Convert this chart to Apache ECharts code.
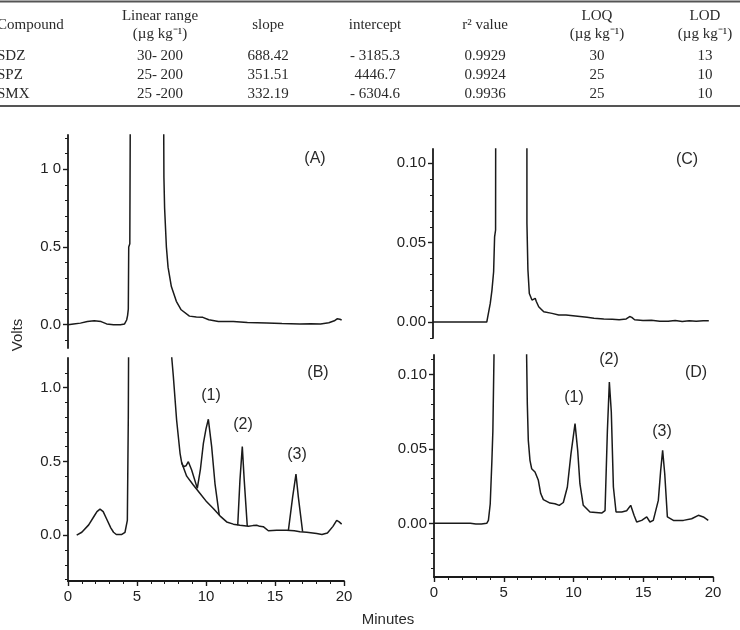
<!DOCTYPE html>
<html>
<head>
<meta charset="utf-8">
<script src="https://cdn.jsdelivr.net/npm/echarts@6.0.0/dist/echarts.min.js"></script>
<style>
    html, body { margin: 0; padding: 0; background: #fff; }
    #main { width: 740px; height: 630px; }
</style>
</head>
<body>
<div id="main"></div>
<script>
// table values
var tableHead = ['Compound', 'Linear range', 'slope', 'intercept', 'r\u00b2 value', 'LOQ', 'LOD'];
var tableUnits = ['', '(\u00b5g kg\u207b\u00b9)', '', '', '', '(\u00b5g kg\u207b\u00b9)', '(\u00b5g kg\u207b\u00b9)'];
var tableRows = [
    ['SDZ', '30- 200', '688.42', '- 3185.3', '0.9929', '30', '13'],
    ['SPZ', '25- 200', '351.51', '4446.7', '0.9924', '25', '10'],
    ['SMX', '25 -200', '332.19', '- 6304.6', '0.9936', '25', '10']
];

// (A) blank, volts vs minutes
var timeA = [0, 0.4, 0.9, 1.4, 1.9, 2.4, 2.8, 3.3, 3.8, 4.1, 4.25, 4.32, 4.37, 4.4, 4.48, 4.56, 6.88, 6.95, 7.0, 7.13,
    7.25, 7.49, 7.85, 8.2, 8.8, 9.3, 9.77, 10.2, 10.9, 11.98, 13.0, 14.4, 15.5, 16.8, 17.6, 18.3, 18.9, 19.3, 19.5, 19.7, 19.83];
var voltsA = [0, 0.005, 0.01, 0.02, 0.025, 0.02, 0.005, 0, 0, 0.005, 0.03, 0.06, 0.1, 0.5, 0.52, 2.5, 2.5, 0.95, 0.75, 0.5,
    0.37, 0.245, 0.15, 0.096, 0.055, 0.05, 0.047, 0.032, 0.021, 0.021, 0.014, 0.011, 0.008, 0.005, 0.006, 0.005, 0.012, 0.025, 0.038, 0.035, 0.03];

// (B) matrix baseline
var timeB = [0.63, 1.0, 1.5, 1.9, 2.1, 2.32, 2.55, 2.8, 3.1, 3.3, 3.5, 3.9, 4.13, 4.3, 4.37, 4.45, 7.35, 7.52, 7.63, 7.87, 8.12,
    8.24, 8.6, 9.08, 9.57, 10.05, 10.53, 11.01, 11.5, 11.98, 12.46, 13.07, 13.4, 13.67, 13.9, 14.15, 14.52, 15.12, 15.85, 16.4, 16.81,
    17.3, 18.02, 18.4, 18.8, 19.2, 19.47, 19.65, 19.83];
var voltsB = [0, 0.02, 0.07, 0.13, 0.16, 0.177, 0.16, 0.11, 0.05, 0.02, 0.005, 0.005, 0.02, 0.1, 0.8, 2.5, 2.5, 1.2, 1.08, 0.78, 0.555,
    0.49, 0.40, 0.34, 0.283, 0.226, 0.181, 0.131, 0.09, 0.075, 0.068, 0.061, 0.065, 0.068, 0.06, 0.058, 0.03, 0.033, 0.033, 0.03, 0.023,
    0.02, 0.011, 0.005, 0.015, 0.06, 0.10, 0.09, 0.075];
// (B) spiked peaks, null = gap
var timeBPeaks = [8.24, 8.36, 8.55, 8.72, 8.96, 9.37, 9.6, 9.81, 10.0, 10.17, 10.41, 10.65, 10.96, null,
    12.3, 12.46, 12.63, 12.77, 12.99, null, 15.97, 16.28, 16.52, 16.69, 17.0];
var voltsBPeaks = [0.49, 0.464, 0.47, 0.498, 0.441, 0.317, 0.45, 0.622, 0.72, 0.785, 0.60, 0.35, 0.136, null,
    0.068, 0.373, 0.60, 0.373, 0.062, null, 0.033, 0.26, 0.414, 0.26, 0.024];

// (C) blank, expanded scale
var timeC = [0, 1, 2, 3, 3.84, 3.97, 4.09, 4.21, 4.33, 4.4, 4.47, 4.5, 6.7, 6.71, 6.78, 6.88, 7.07, 7.2, 7.3, 7.38, 7.55, 7.91,
    8.5, 8.98, 9.5, 10.0, 10.5, 11.0, 11.5, 12.2, 12.8, 13.3, 13.8, 14.05, 14.2, 14.4, 15.0, 15.6, 16.2, 16.8, 17.3, 17.8, 18.3,
    18.8, 19.3, 19.7];
var voltsC = [0, 0, 0, 0, 0, 0.001, 0.0118, 0.020, 0.0317, 0.0537, 0.058, 0.3, 0.3, 0.062, 0.033, 0.018, 0.0139, 0.0145, 0.015,
    0.013, 0.0097, 0.0065, 0.0055, 0.0045, 0.0045, 0.004, 0.0035, 0.003, 0.0025, 0.002, 0.0018, 0.0015, 0.002, 0.0035, 0.003,
    0.0015, 0.001, 0.0012, 0.0006, 0.0005, 0.001, 0.0004, 0.0008, 0.0006, 0.0008, 0.0008];

// (D) spiked, expanded scale
var timeD = [0, 1, 2, 2.6, 3.0, 3.4, 3.78, 3.9, 4.03, 4.15, 4.22, 4.3, 4.36, 6.62, 6.64, 6.69, 6.76, 6.88, 7.0, 7.24,
    7.48, 7.65, 7.84, 8.32, 8.67, 8.98, 9.27, 9.56, 9.82, 10.11, 10.3, 10.46, 10.7, 11.18, 12.02, 12.26, 12.43, 12.57, 12.71, 12.86,
    13.05, 13.46, 13.81, 14.1, 14.34, 14.53, 14.89, 15.25, 15.48, 15.72, 16.08, 16.25, 16.39, 16.54, 16.73, 17.16, 17.88, 18.47,
    18.95, 19.31, 19.66];
var voltsD = [0, 0, 0, 0, -0.0005, -0.0005, 0, 0.002, 0.013, 0.042, 0.062, 0.112, 0.3, 0.3, 0.112, 0.080, 0.0557, 0.0423, 0.0367, 0.0345,
    0.0289, 0.020, 0.0159, 0.0136, 0.0132, 0.0121, 0.014, 0.0244, 0.0468, 0.0669, 0.049, 0.0266, 0.0121, 0.0076, 0.0069, 0.0085,
    0.0624, 0.0948, 0.0747, 0.0244, 0.0076, 0.0076, 0.0085, 0.0121, 0.0054, 0.0009, 0.002, 0.0043, 0.0009, 0.002, 0.0154, 0.0356,
    0.049, 0.0333, 0.0043, 0.002, 0.002, 0.0031, 0.0054, 0.0043, 0.002];

// axis ticks
var majorsAB = [0, 0.5, 1.0];
var minorsA = [-0.1, 0.1, 0.2, 0.3, 0.4, 0.6, 0.7, 0.8, 0.9, 1.1, 1.2];
var minorsB = [-0.3, -0.2, -0.1, 0.1, 0.2, 0.3, 0.4, 0.6, 0.7, 0.8, 0.9, 1.1];
var majorsCD = [0, 0.05, 0.10];
var minorsC = [-0.01, 0.01, 0.02, 0.03, 0.04, 0.06, 0.07, 0.08, 0.09];
var minorsD = [-0.03, -0.02, -0.01, 0.01, 0.02, 0.03, 0.04, 0.06, 0.07, 0.08, 0.09, 0.11];

var INK = '#1a1a1a';
var LABEL_FONT = 'Liberation Sans';

function pairs(xs, ys) {
    return xs.map(function (x, i) {
        return x === null ? ['-', '-'] : [x, ys[i]];
    });
}

function yMain(grid, min, max, majors, fmt) {
    return {
        type: 'value', gridIndex: grid, min: min, max: max, position: 'left',
        axisLine: { show: true, onZero: false, lineStyle: { color: INK, width: 1.8 } },
        axisTick: { show: true, customValues: majors, length: 5, lineStyle: { color: INK, width: 1.4 } },
        axisLabel: { show: true, customValues: majors, formatter: fmt, fontFamily: LABEL_FONT, fontSize: 15, color: '#222', margin: 7 },
        splitLine: { show: false }
    };
}

function yMinor(grid, min, max, minors) {
    return {
        type: 'value', gridIndex: grid, min: min, max: max, position: 'left',
        axisLine: { show: false },
        axisTick: { show: true, customValues: minors, length: 3, lineStyle: { color: INK, width: 1 } },
        axisLabel: { show: false },
        splitLine: { show: false }
    };
}

function xAxisFor(grid, visible) {
    return {
        type: 'value', gridIndex: grid, min: 0, max: 20, interval: 5, show: visible,
        axisLine: { onZero: false, lineStyle: { color: INK, width: 1.8 } },
        axisTick: { length: 5, lineStyle: { color: INK, width: 1.4 } },
        minorTick: { show: true, splitNumber: 5, length: 3, lineStyle: { color: INK, width: 1 } },
        axisLabel: { fontFamily: LABEL_FONT, fontSize: 15, color: '#222', margin: 8 },
        splitLine: { show: false }
    };
}

function trace(xi, yi, data) {
    return {
        type: 'line', xAxisIndex: xi, yAxisIndex: yi, data: data,
        symbol: 'none', clip: true, silent: true, connectNulls: false,
        lineStyle: { color: INK, width: 1.5 }
    };
}

function txt(text, x, y, font, extra) {
    var s = { text: text, x: x, y: y, fill: '#2a2a2a', font: font, textAlign: 'center', textVerticalAlign: 'middle' };
    if (extra) { Object.assign(s, extra); }
    return { type: 'text', style: s, silent: true };
}

// table drawn as graphic text
var tableGraphic = [];
var colX = [-3, 160, 268, 375, 485, 597, 705];
var SERIF = '15px "Liberation Serif"';
tableGraphic.push({ type: 'line', shape: { x1: 0, y1: 1.5, x2: 740, y2: 1.5 }, style: { stroke: '#555', lineWidth: 2 } });
tableGraphic.push({ type: 'line', shape: { x1: 0, y1: 106, x2: 740, y2: 106 }, style: { stroke: '#555', lineWidth: 2 } });
tableHead.forEach(function (h, i) {
    var align = i === 0 ? { textAlign: 'left' } : null;
    if (tableUnits[i]) {
        tableGraphic.push(txt(h, colX[i], 16, SERIF, align));
        tableGraphic.push(txt(tableUnits[i], colX[i], 34, SERIF, align));
    } else {
        tableGraphic.push(txt(h, colX[i], 25, SERIF, align));
    }
});
tableRows.forEach(function (row, r) {
    row.forEach(function (cell, i) {
        var align = i === 0 ? { textAlign: 'left' } : null;
        tableGraphic.push(txt(cell, colX[i], 56 + r * 19, SERIF, align));
    });
});

var SANS = '16px "Liberation Sans"';
var chartGraphic = [
    txt('(A)', 315, 159, SANS),
    txt('(B)', 318, 373, SANS),
    txt('(C)', 687, 160, SANS),
    txt('(D)', 696, 373, SANS),
    txt('(1)', 211, 396, SANS),
    txt('(2)', 243, 425, SANS),
    txt('(3)', 297, 455, SANS),
    txt('(1)', 574, 398, SANS),
    txt('(2)', 609, 360, SANS),
    txt('(3)', 662, 432, SANS),
    txt('Minutes', 388, 620, '15px "Liberation Sans"'),
    { type: 'text', x: 18, y: 335, rotation: Math.PI / 2, silent: true,
      style: { text: 'Volts', fill: '#2a2a2a', font: '15px "Liberation Sans"', textAlign: 'center', textVerticalAlign: 'middle' } }
];

var myChart = echarts.init(document.getElementById('main'), null, { renderer: 'canvas' });
var option = {
    animation: false,
    backgroundColor: '#fff',
    grid: [
        { left: 68, top: 135, width: 276, height: 213 },
        { left: 68, top: 358, width: 276, height: 223 },
        { left: 433, top: 149, width: 280, height: 189 },
        { left: 434, top: 355, width: 279, height: 222 }
    ],
    xAxis: [xAxisFor(0, false), xAxisFor(1, true), xAxisFor(2, false), xAxisFor(3, true)],
    yAxis: [
        yMain(0, -0.15, 1.22, majorsAB, function (v) { return v === 1 ? '1 0' : v.toFixed(1); }),
        yMinor(0, -0.15, 1.22, minorsA),
        yMain(1, -0.31, 1.20, majorsAB, function (v) { return v.toFixed(1); }),
        yMinor(1, -0.31, 1.20, minorsB),
        yMain(2, -0.010, 0.109, majorsCD, function (v) { return v.toFixed(2); }),
        yMinor(2, -0.010, 0.109, minorsC),
        yMain(3, -0.036, 0.113, majorsCD, function (v) { return v.toFixed(2); }),
        yMinor(3, -0.036, 0.113, minorsD)
    ],
    series: [
        trace(0, 0, pairs(timeA, voltsA)),
        trace(1, 2, pairs(timeB, voltsB)),
        trace(1, 2, pairs(timeBPeaks, voltsBPeaks)),
        trace(2, 4, pairs(timeC, voltsC)),
        trace(3, 6, pairs(timeD, voltsD))
    ],
    graphic: tableGraphic.concat(chartGraphic)
};
if (option && typeof option === 'object') {
    myChart.setOption(option, true);
}
</script>
</body>
</html>
